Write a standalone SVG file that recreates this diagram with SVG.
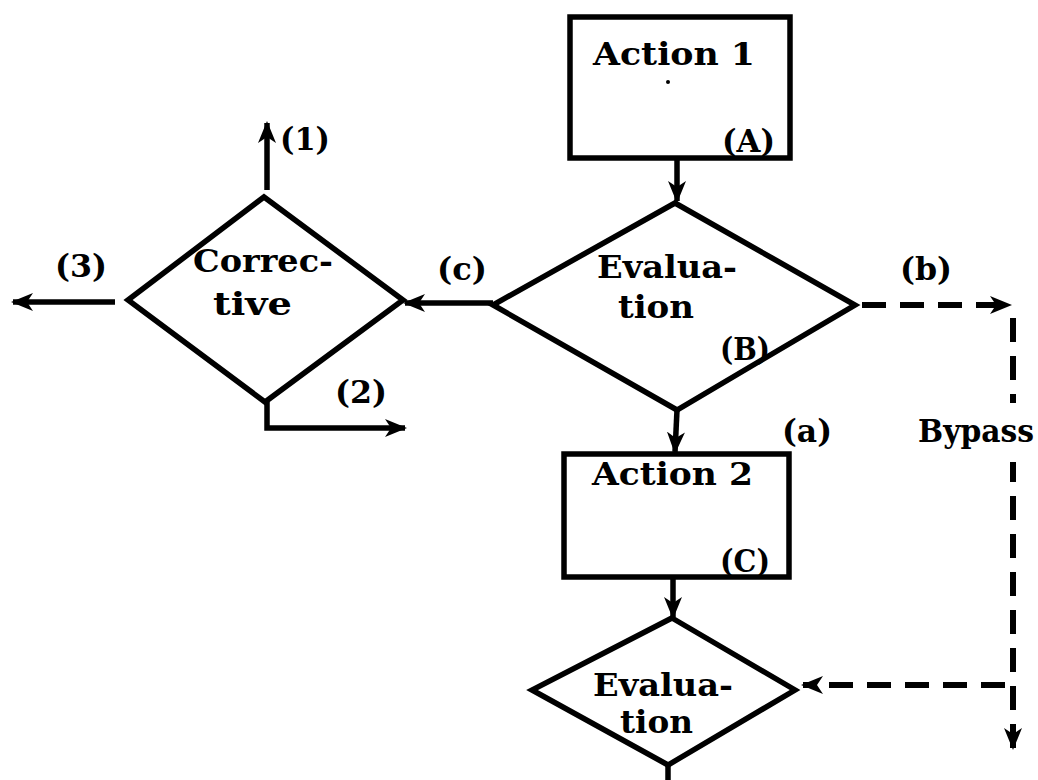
<svg xmlns="http://www.w3.org/2000/svg" width="1038" height="780" viewBox="0 0 1038 780">
<style>
.shape{fill:#fff;stroke:#000;stroke-width:5.5;stroke-linejoin:miter}
.ln{fill:none;stroke:#000;stroke-width:5.5}
.dash{fill:none;stroke:#000;stroke-width:6;stroke-dasharray:24 14}
text{font-family:"DejaVu Serif","Liberation Serif",serif;font-weight:bold;font-size:31px;fill:#000}
</style>
<defs>
<marker id="ah" markerUnits="userSpaceOnUse" markerWidth="22" markerHeight="22" viewBox="0 0 22 22" refX="20" refY="11" orient="auto">
<path d="M0,2 L22,11 L0,20 L6,11 z" fill="#000"/>
</marker>
</defs>
<rect width="1038" height="780" fill="#fff"/>
<g id="connectors">
<line class="ln" x1="677" y1="158" x2="677" y2="201" marker-end="url(#ah)"/>
<line class="ln" x1="493" y1="303" x2="405" y2="303" marker-end="url(#ah)"/>
<line class="ln" x1="267" y1="190" x2="267" y2="123" marker-end="url(#ah)"/>
<line class="ln" x1="115" y1="302" x2="13" y2="302" marker-end="url(#ah)"/>
<path class="ln" d="M267,402 V428 H405" marker-end="url(#ah)"/>
<line class="ln" x1="677" y1="410" x2="675" y2="452" marker-end="url(#ah)"/>
<line class="ln" x1="673" y1="578" x2="673" y2="617" marker-end="url(#ah)"/>
<line class="ln" x1="668" y1="765" x2="668" y2="780"/>
<line class="dash" x1="862" y1="305" x2="1010" y2="305" marker-end="url(#ah)"/>
<line class="dash" x1="1013" y1="318" x2="1013" y2="403"/>
<line class="dash" x1="1013" y1="462" x2="1013" y2="748" stroke-dashoffset="4" marker-end="url(#ah)"/>
<line class="dash" x1="1005" y1="685" x2="803" y2="685" marker-end="url(#ah)"/>
<text x="437" y="280" textLength="50" lengthAdjust="spacingAndGlyphs">(c)</text>
<text x="900" y="280" textLength="52" lengthAdjust="spacingAndGlyphs">(b)</text>
<text x="280" y="150" textLength="50" lengthAdjust="spacingAndGlyphs">(1)</text>
<text x="55" y="277" textLength="52" lengthAdjust="spacingAndGlyphs">(3)</text>
<text x="335" y="403" textLength="52" lengthAdjust="spacingAndGlyphs">(2)</text>
<text x="782" y="442" textLength="50" lengthAdjust="spacingAndGlyphs">(a)</text>
<text x="918" y="442" textLength="116" lengthAdjust="spacingAndGlyphs">Bypass</text>
</g>
<g id="action1">
<rect class="shape" x="570" y="17" width="220" height="141"/>
<text x="593" y="65" textLength="162" lengthAdjust="spacingAndGlyphs">Action 1</text>
<circle cx="668" cy="82" r="2" fill="#000"/>
<text x="722" y="152" textLength="53" lengthAdjust="spacingAndGlyphs">(A)</text>
</g>
<g id="evaluationB">
<polygon class="shape" points="675,203 855,305 677,410 493,305"/>
<text x="597" y="278" textLength="140" lengthAdjust="spacingAndGlyphs">Evalua-</text>
<text x="618" y="318" textLength="76" lengthAdjust="spacingAndGlyphs">tion</text>
<text x="720" y="360" textLength="50" lengthAdjust="spacingAndGlyphs">(B)</text>
</g>
<g id="corrective">
<polygon class="shape" points="264,197 403,300 265,402 128,300"/>
<text x="193" y="272" textLength="140" lengthAdjust="spacingAndGlyphs">Correc-</text>
<text x="213" y="315" textLength="79" lengthAdjust="spacingAndGlyphs">tive</text>
</g>
<g id="action2">
<rect class="shape" x="564" y="454" width="225" height="123"/>
<text x="592" y="485" textLength="161" lengthAdjust="spacingAndGlyphs">Action 2</text>
<text x="720" y="572" textLength="50" lengthAdjust="spacingAndGlyphs">(C)</text>
</g>
<g id="evaluation2">
<polygon class="shape" points="672,618 795,690 668,765 532,690"/>
<text x="593" y="696" font-size="29" textLength="140" lengthAdjust="spacingAndGlyphs">Evalua-</text>
<text x="620" y="733" font-size="29" textLength="73" lengthAdjust="spacingAndGlyphs">tion</text>
</g>
</svg>
